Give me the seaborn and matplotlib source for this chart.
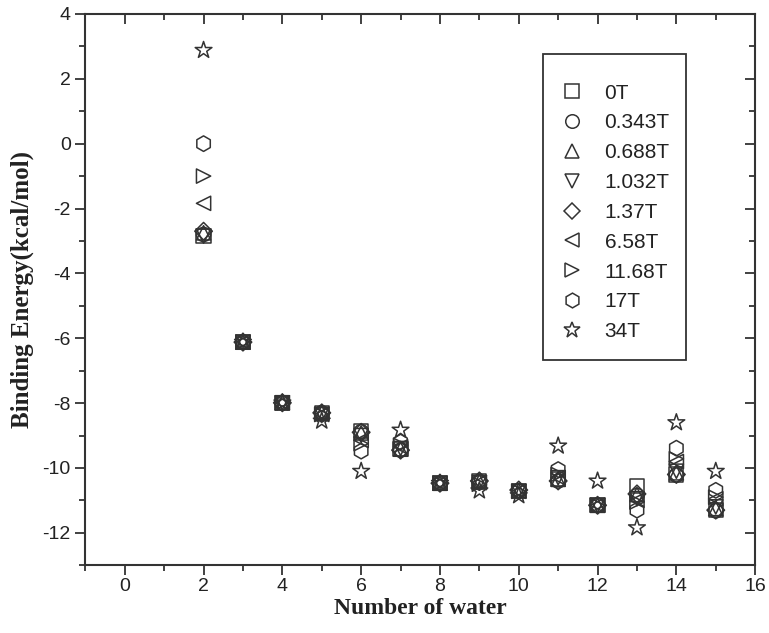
import pandas as pd
import seaborn as sns
import matplotlib.pyplot as plt
from matplotlib.lines import Line2D
from matplotlib.patches import Rectangle
from matplotlib.ticker import MultipleLocator

water = [2, 3, 4, 5, 6, 7, 8, 9, 10, 11, 12, 13, 14, 15]

fields = ['0T', '0.343T', '0.688T', '1.032T', '1.37T', '6.58T', '11.68T', '17T', '34T']

e_0T = [-2.85, -6.12, -7.99, -8.3, -8.86, -9.42, -10.47, -10.42, -10.7, -10.35, -11.15, -10.55, -10.2, -11.3]
e_0343T = [-2.8, -6.12, -7.99, -8.3, -8.88, -9.45, -10.47, -10.42, -10.7, -10.4, -11.15, -10.85, -10.22, -11.32]
e_0688T = [-2.75, -6.12, -7.99, -8.3, -8.92, -9.42, -10.47, -10.42, -10.7, -10.35, -11.15, -10.82, -10.15, -11.25]
e_1032T = [-2.85, -6.12, -7.99, -8.35, -9.0, -9.4, -10.47, -10.45, -10.72, -10.3, -11.15, -10.95, -10.1, -11.2]
e_137T = [-2.7, -6.12, -7.99, -8.3, -8.9, -9.45, -10.47, -10.4, -10.68, -10.4, -11.15, -10.8, -10.2, -11.3]
e_658T = [-1.84, -6.12, -7.99, -8.35, -9.15, -9.35, -10.47, -10.45, -10.72, -10.3, -11.15, -11.0, -9.8, -10.95]
e_1168T = [-1.0, -6.12, -7.99, -8.35, -9.25, -9.3, -10.47, -10.5, -10.72, -10.2, -11.15, -11.05, -9.72, -10.9]
e_17T = [0.0, -6.12, -7.99, -8.35, -9.48, -9.2, -10.47, -10.45, -10.72, -10.05, -11.15, -11.3, -9.39, -10.69]
e_34T = [2.88, -6.12, -7.99, -8.55, -10.1, -8.83, -10.47, -10.7, -10.85, -9.32, -10.4, -11.84, -8.6, -10.1]

energies = [e_0T, e_0343T, e_0688T, e_1032T, e_137T, e_658T, e_1168T, e_17T, e_34T]
marker_list = ['s', 'o', '^', 'v', 'D', '<', '>', 'h', '*']

rows = []
for f, vals in zip(fields, energies):
    for w, v in zip(water, vals):
        rows.append({'water': w, 'energy': v, 'field': f})
df = pd.DataFrame(rows)

sns.set_style('ticks')
plt.rcParams['font.family'] = ['Liberation Sans', 'DejaVu Sans']
plt.rcParams['axes.unicode_minus'] = False

edge = '#333333'
fig = plt.figure(figsize=(7.69, 6.33), dpi=100)
ax = fig.add_axes([0.111, 0.107, 0.871, 0.871])

mk = dict(zip(fields, marker_list))
sizes = {'D': 80, '*': 160, 'h': 125}
for f in fields:
    sub = df[df['field'] == f]
    m = mk[f]
    sns.scatterplot(data=sub, x='water', y='energy', marker=m, s=sizes.get(m, 105),
                    facecolors='none', edgecolor=edge, linewidth=1.1, ax=ax, legend=False)

ax.set_xlim(-1, 16)
ax.set_ylim(-13, 4)
ax.xaxis.set_major_locator(MultipleLocator(2))
ax.xaxis.set_minor_locator(MultipleLocator(1))
ax.yaxis.set_major_locator(MultipleLocator(2))
ax.yaxis.set_minor_locator(MultipleLocator(1))
ax.tick_params(which='both', direction='out', colors=edge, labelsize=14, width=1.3,
               top=True, right=True, labelcolor='#222222')
ax.tick_params(which='major', length=7)
ax.tick_params(which='minor', length=4)
ax.tick_params(axis='x', which='major', pad=2)
for sp in ax.spines.values():
    sp.set_visible(True)
    sp.set_color(edge)
    sp.set_linewidth(1.5)
# top/right ticks point inward
for tl in ax.xaxis.get_majorticklines()[1::2] + ax.xaxis.get_minorticklines()[1::2]:
    tl.set_marker(3)
for tl in ax.yaxis.get_majorticklines()[1::2] + ax.yaxis.get_minorticklines()[1::2]:
    tl.set_marker(0)

ax.set_xlabel('Number of water', family=['Liberation Serif', 'DejaVu Serif'],
              fontweight='bold', fontsize=17, color='#222222', labelpad=2)
ax.set_ylabel('Binding Energy(kcal/mol)', family=['Liberation Serif', 'DejaVu Serif'],
              fontweight='bold', fontsize=18, color='#222222', labelpad=6)

# legend box drawn separately so the padding can match
fig.patches.append(Rectangle((543 / 769, 1 - 360 / 633), (686 - 543) / 769, (360 - 54) / 633,
                             transform=fig.transFigure, fill=False, edgecolor=edge,
                             linewidth=1.3, zorder=5))
handles = [Line2D([], [], linestyle='none', marker=mk[f], markerfacecolor='none',
                  markeredgecolor=edge, markersize=(sizes.get(mk[f], 105)) ** 0.5 * 0.95,
                  markeredgewidth=1.1) for f in fields]
leg = ax.legend(handles, fields, loc='upper left', bbox_to_anchor=(0.728, 0.868),
                bbox_transform=fig.transFigure, frameon=False,
                fontsize=15, labelspacing=0.52, handletextpad=0.95,
                borderpad=0, borderaxespad=0, handlelength=1.2)
for t in leg.get_texts():
    t.set_color('#222222')

fig.savefig('out.png', dpi=100, facecolor='white')
